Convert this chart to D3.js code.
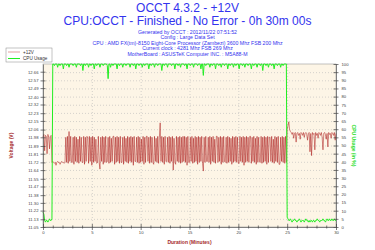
<!DOCTYPE html>
<html>
<head>
<meta charset="utf-8">
<script src="https://cdn.jsdelivr.net/npm/d3@7"></script>
<style>
body { margin: 0; background: #fff; }
svg { display: block; font-family: "Liberation Sans", Arial, sans-serif; }
</style>
</head>
<body>
<div id="chart"></div>
<script>
// one sample every 5 seconds, 0 -> 30 minutes
var sampleSec = 5;

// +12V readings (V)
var voltWarmup = [11.98, 12.01, 11.84, 12.00, 11.99, 11.81, 12.01, 11.98, 11.86, 11.99, 12.00];
var voltIdle = [11.72, 11.73, 11.72, 11.71, 11.72, 11.69, 11.72, 11.73, 11.72, 11.72, 11.70, 11.72, 11.73, 11.72, 11.72, 11.71, 11.72];
var voltLoad = [
	11.98, 11.72, 11.99, 11.71, 12.04, 11.73, 11.99, 11.72, 11.72, 11.98, 11.70, 11.99, 11.73, 11.98, 11.72, 11.96,
	11.71, 11.99, 11.73, 11.98, 11.72, 11.72, 11.99, 11.70, 11.98, 11.73, 11.99, 11.97, 11.71, 11.99, 11.73, 11.98,
	11.69, 11.99, 11.72, 11.98, 11.73, 11.96, 11.71, 11.72, 11.99, 11.72, 11.65, 11.98, 11.73, 11.99, 11.70, 11.98,
	11.72, 11.99, 11.72, 11.73, 11.98, 11.71, 11.99, 11.72, 11.97, 11.73, 11.99, 11.99, 11.70, 11.98, 11.72, 11.99,
	11.73, 11.98, 11.71, 11.99, 11.72, 11.72, 11.98, 11.70, 11.99, 11.73, 11.97, 11.72, 11.99, 11.71, 11.98, 11.73,
	11.99, 11.72, 11.98, 11.69, 11.99, 11.73, 11.73, 11.98, 11.72, 11.99, 11.71, 11.98, 11.72, 11.96, 11.73, 11.99,
	11.70, 11.98, 11.72, 11.99, 11.99, 11.73, 11.98, 11.71, 11.99, 11.72, 11.98, 11.72, 11.70, 11.99, 11.73, 11.97,
	11.72, 11.99, 11.71, 11.98, 12.13, 11.73, 11.99, 11.72, 11.98, 11.70, 11.99, 11.73, 11.73, 11.98, 11.72, 11.99,
	11.71, 11.98, 11.73, 11.99, 11.64, 11.97, 11.72, 11.70, 11.99, 11.73, 11.98, 11.72, 11.99, 11.71, 11.98, 11.72,
	11.99, 11.73, 11.99, 11.72, 11.98, 11.69, 11.99, 11.72, 11.72, 11.98, 11.73, 11.99, 11.71, 11.97, 11.72, 11.99,
	11.73, 11.98, 11.70, 11.99, 11.72, 11.98, 11.73, 11.99, 11.71, 11.63, 11.98, 11.72, 11.99, 11.73, 11.73, 11.98,
	11.72, 11.99, 11.70, 11.98, 11.73, 11.99, 11.72, 11.96, 11.71, 11.99, 11.99, 11.72, 11.98, 11.73, 11.99, 11.70,
	11.98, 11.72, 11.99, 11.73, 11.72, 11.98, 11.71, 11.99, 11.72, 11.98, 11.73, 11.97, 11.70, 11.99, 11.72, 11.98,
	11.73, 11.99, 11.72, 11.98, 11.71, 11.71, 11.99, 11.73, 11.98, 11.72, 11.99, 11.69, 11.98, 11.72, 11.99, 11.73,
	11.98, 11.72, 11.99, 11.99, 11.71, 11.98, 11.73, 11.99, 11.72, 11.97, 11.70, 11.99, 11.72, 11.98, 11.73, 11.72,
	11.99, 11.71, 11.98, 11.72, 11.99, 11.73, 11.98, 11.70, 11.99, 11.72, 11.98, 11.98, 11.73, 11.99, 11.72, 11.96,
	11.71, 11.99, 11.73, 11.98, 11.72, 11.99, 11.70, 11.70, 11.98, 11.73, 11.99, 11.72, 11.98, 11.71, 11.99, 11.72
];
var voltAfter = [
	12.06, 12.10, 12.14, 12.06, 12.04, 12.03, 12.01, 12.03, 11.97, 12.02, 12.03, 11.93, 12.02, 12.03, 12.00, 12.02,
	11.96, 12.03, 12.02, 12.00, 12.03, 11.98, 12.02, 12.03, 12.01, 11.95, 12.02, 12.03, 11.83, 12.02, 11.79, 12.03,
	12.01, 12.02, 11.85, 12.03, 12.00, 12.02, 11.97, 12.03, 12.02, 12.00, 12.03, 11.98, 11.85, 12.02, 12.03, 12.01,
	11.96, 12.02, 11.88, 12.03, 12.01, 12.02, 11.97, 12.03, 12.02, 12.00, 12.03, 11.95, 12.02
];

// CPU usage (%)
var cpuStart = [9, 8, 4, 3, 4, 4, 3, 4, 5, 4, 4, 5];
var cpuLoad = [
	100,100,99,100,100,100,98,100,100,99,100,100,100,97,100,100,100,99,100,100,98,100,100,100,
	100,99,100,100,100,98,100,100,100,100,99,100,100,96,100,100,99,100,100,100,98,100,100,99,
	100,100,100,97,100,100,99,100,100,100,98,100,100,100,99,100,100,100,100,99,91,100,100,98,
	100,100,99,100,100,100,100,97,100,100,99,100,100,100,98,100,100,100,99,100,100,100,100,98,
	100,100,100,99,100,100,97,100,100,100,99,100,100,100,98,100,100,99,100,100,100,100,97,100,
	100,99,100,100,100,98,100,100,100,99,100,100,100,100,96,100,100,99,100,100,100,98,100,100,
	100,100,99,100,100,100,97,100,100,100,99,100,100,98,100,100,100,100,99,100,100,97,100,100,
	100,99,100,100,100,98,100,100,100,100,99,100,100,100,97,100,100,93,100,100,99,100,100,100,
	100,98,100,100,99,100,100,100,97,100,100,100,99,100,100,98,100,100,100,99,100,100,100,97,
	100,100,99,100,100,100,98,100,100,99,100,100,100,97,100,100,100,99,100,100,98,100,100,100,
	99,100,100,100,97,100,100,99,100,100,100,98,100,100,100,99,100,100,96,100,100,100,99,100,
	100,98,100,100,100,99,100,100,97,100,100,100,99,100,100,100,98,100,100,99,100,100,100,100
];
var cpuEnd = [6, 5, 4, 4, 5, 4, 3, 4, 4, 5, 4, 4, 3, 4, 4, 5, 4, 3, 4, 4, 4, 3, 4, 5, 4, 4, 3, 4, 3, 4, 4,
	3, 4, 4, 3, 4, 4, 5, 4, 4, 3, 4, 4, 4, 5, 4, 4, 3, 4, 5, 4, 4, 5, 4, 4, 5, 4, 4, 5, 4, 4];

// tick labels
var voltTickLabels = ["11.05", "11.13", "11.22", "11.30", "11.38", "11.47", "11.55", "11.64", "11.72", "11.81",
	"11.89", "11.98", "12.06", "12.15", "12.23", "12.32", "12.40", "12.49", "12.57", "12.66"];
var voltTop = 12.74;
var cpuTicks = [0, 5, 10, 15, 20, 25, 30, 35, 40, 45, 50, 55, 60, 65, 70, 75, 80, 85, 90, 95, 100];
var minuteTicks = [0, 5, 10, 15, 20, 25, 30];

var titleLines = ["OCCT 4.3.2 - +12V", "CPU:OCCT - Finished - No Error - 0h 30m 00s"];
var infoLines = [
	"Generated by OCCT : 2012/11/22 07:51:52",
	"Config : Large Data Set",
	"CPU : AMD FX(tm)-8150 Eight-Core Processor (Zambezi) 3600 Mhz FSB 200 Mhz",
	"Current clock : 4281 Mhz FSB 269 Mhz",
	"MotherBoard : ASUSTeK Computer INC. : M5A88-M"
];

var voltage = [].concat(voltWarmup, voltIdle, voltLoad, voltAfter).map(function(v, i) {
	return { min: i * sampleSec / 60, v: v };
});
var cpu = [].concat(cpuStart, cpuLoad, cpuEnd).map(function(v, i) {
	return { min: i * sampleSec / 60, v: v };
});

var W = 375, H = 250;
var plot = { left: 43, right: 336, top: 64, bottom: 227 };

var svg = d3.select("#chart").append("svg")
	.attr("width", W)
	.attr("height", H);

var x = d3.scaleLinear().domain([0, 30]).range([plot.left, plot.right]);
var yV = d3.scaleLinear().domain([+voltTickLabels[0], voltTop]).range([plot.bottom, plot.top]);
var yC = d3.scaleLinear().domain([0, 100]).range([plot.bottom, plot.top]);

// titles
svg.selectAll(".title")
	.data(titleLines)
	.enter().append("text")
	.attr("x", 187.5)
	.attr("y", function(d, i) { return 12 + i * 13; })
	.attr("text-anchor", "middle")
	.style("font-size", "12px")
	.style("fill", "#3333ee")
	.text(function(d) { return d; });

svg.selectAll(".info")
	.data(infoLines)
	.enter().append("text")
	.attr("x", 187.5)
	.attr("y", function(d, i) { return 33.5 + i * 5.6; })
	.attr("text-anchor", "middle")
	.style("font-size", "5.2px")
	.style("fill", "#3333ee")
	.text(function(d) { return d; });

// plot background
svg.append("rect")
	.attr("x", plot.left)
	.attr("y", plot.top)
	.attr("width", plot.right - plot.left)
	.attr("height", plot.bottom - plot.top)
	.style("fill", "#fdf5e6");

// grid
svg.selectAll(".hgrid")
	.data(cpuTicks.slice(1, -1))
	.enter().append("line")
	.attr("x1", plot.left)
	.attr("x2", plot.right)
	.attr("y1", function(d) { return yC(d) + 0.5; })
	.attr("y2", function(d) { return yC(d) + 0.5; })
	.style("stroke", "#b8b8b8")
	.style("stroke-width", 0.6)
	.style("stroke-dasharray", "1,2");

svg.selectAll(".vgrid")
	.data(minuteTicks.slice(1, -1))
	.enter().append("line")
	.attr("x1", function(d) { return x(d) + 0.5; })
	.attr("x2", function(d) { return x(d) + 0.5; })
	.attr("y1", plot.top)
	.attr("y2", plot.bottom)
	.style("stroke", "#b8b8b8")
	.style("stroke-width", 0.6)
	.style("stroke-dasharray", "1,2");

// border
svg.append("rect")
	.attr("x", plot.left)
	.attr("y", plot.top)
	.attr("width", plot.right - plot.left)
	.attr("height", plot.bottom - plot.top)
	.style("fill", "none")
	.style("stroke", "#999")
	.style("stroke-width", 0.6);

// series
var voltLine = d3.line()
	.x(function(d) { return x(d.min); })
	.y(function(d) { return yV(d.v); });

var cpuLine = d3.line()
	.x(function(d) { return x(d.min); })
	.y(function(d) { return yC(d.v); });

svg.append("path")
	.datum(voltage)
	.attr("d", voltLine)
	.style("fill", "none")
	.style("stroke", "#a81010")
	.style("stroke-opacity", 0.5)
	.style("stroke-width", 1);

svg.append("path")
	.datum(cpu)
	.attr("d", cpuLine)
	.style("fill", "none")
	.style("stroke", "#22ee22")
	.style("stroke-width", 1);

// axes
var leftAxis = svg.append("g")
	.attr("transform", "translate(" + plot.left + ",0)")
	.call(d3.axisLeft(yV)
		.tickValues(voltTickLabels.map(Number))
		.tickFormat(function(d, i) { return voltTickLabels[i]; })
		.tickSize(2.5)
		.tickPadding(2)
		.tickSizeOuter(0));

var rightAxis = svg.append("g")
	.attr("transform", "translate(" + plot.right + ",0)")
	.call(d3.axisRight(yC)
		.tickValues(cpuTicks)
		.tickSize(2.5)
		.tickPadding(3)
		.tickSizeOuter(0));

var bottomAxis = svg.append("g")
	.attr("transform", "translate(0," + plot.bottom + ")")
	.call(d3.axisBottom(x)
		.tickValues(d3.range(0, 31))
		.tickFormat(function(d) { return minuteTicks.indexOf(d) >= 0 ? d : ""; })
		.tickSize(2)
		.tickPadding(2.5)
		.tickSizeOuter(0));

[leftAxis, rightAxis, bottomAxis].forEach(function(g) {
	g.select(".domain").style("stroke", "#555").style("stroke-width", 0.7);
	g.selectAll(".tick line").style("stroke", "#444").style("stroke-width", 0.7);
	g.selectAll(".tick text")
		.style("font-size", "4.2px")
		.style("font-family", "Liberation Sans, Arial, sans-serif")
		.style("fill", "#444");
});
// ticks cross the axis line
leftAxis.selectAll(".tick line").attr("x1", 2.5);
rightAxis.selectAll(".tick line").attr("x1", -2.5);
bottomAxis.selectAll(".tick line")
	.attr("y1", function(d) { return d % 5 == 0 ? -3 : -1.5; })
	.attr("y2", function(d) { return d % 5 == 0 ? 3 : 1.5; });

// axis titles
svg.append("text")
	.attr("transform", "translate(13," + ((plot.top + plot.bottom) / 2) + ") rotate(-90)")
	.attr("text-anchor", "middle")
	.style("font-size", "5px")
	.style("font-weight", "bold")
	.style("fill", "#a52a2a")
	.text("Voltage (V)");

svg.append("text")
	.attr("transform", "translate(352," + ((plot.top + plot.bottom) / 2) + ") rotate(90)")
	.attr("text-anchor", "middle")
	.style("font-size", "5px")
	.style("font-weight", "bold")
	.style("fill", "#22dd22")
	.text("CPU Usage (in %)");

svg.append("text")
	.attr("x", (plot.left + plot.right) / 2)
	.attr("y", 244)
	.attr("text-anchor", "middle")
	.style("font-size", "5px")
	.style("font-weight", "bold")
	.style("fill", "#a52a2a")
	.text("Duration (Minutes)");

// legend
var legendItems = [
	{ name: "+12V", color: "#d06060", width: 0.6 },
	{ name: "CPU Usage", color: "#22ee22", width: 1 }
];
var legend = svg.append("g");
legend.append("rect")
	.attr("x", 6)
	.attr("y", 48)
	.attr("width", 46)
	.attr("height", 14)
	.style("fill", "#fff")
	.style("stroke", "#888")
	.style("stroke-width", 0.5);
var item = legend.selectAll(".item")
	.data(legendItems)
	.enter().append("g")
	.attr("transform", function(d, i) { return "translate(0," + (52 + i * 6.5) + ")"; });
item.append("line")
	.attr("x1", 8)
	.attr("x2", 20)
	.style("stroke", function(d) { return d.color; })
	.style("stroke-width", function(d) { return d.width; });
item.append("text")
	.attr("x", 23)
	.attr("y", 1.6)
	.style("font-size", "4.6px")
	.style("fill", "#333")
	.text(function(d) { return d.name; });
</script>
</body>
</html>
